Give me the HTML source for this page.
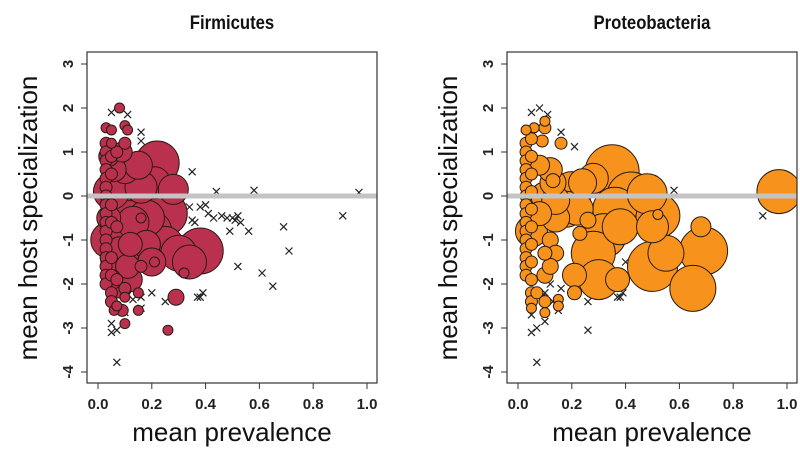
<!DOCTYPE html>
<html><head><meta charset="utf-8"><style>
html,body{margin:0;padding:0;background:#fff}
svg{display:block;font-family:"Liberation Sans",Arial,sans-serif}
</style></head><body>
<svg id="chart" width="800" height="471" viewBox="0 0 800 471" xmlns="http://www.w3.org/2000/svg"></svg>
<script>
const xTicks=[0,0.2,0.4,0.6,0.8,1.0];
const xTickLabels=["0.0","0.2","0.4","0.6","0.8","1.0"];
const yTicks=[3,2,1,0,-1,-2,-3,-4];
const yTickLabels=["3","2","1","0","-1","-2","-3","-4"];
const panelTitles=["Firmicutes","Proteobacteria"];
// circles: [prevalence, specialization, size]
const firmCircles=[[0.22,0.75,22],[0.21,0.3,16],[0.28,0.15,15],[0.25,-0.4,22],[0.2,-0.8,20],[0.25,-1.1,18],[0.3,-1.3,18],[0.38,-1.25,23],[0.34,-1.5,17],[0.15,-1.3,18],[0.12,0.3,18],[0.1,-0.3,20],[0.1,0.6,14],[0.07,-1.5,16],[0.05,0.1,18],[0.04,-1.0,18],[0.08,-2.0,14],[0.12,-1.9,12],[0.18,-1.1,14],[0.15,0.7,14],[0.13,-0.6,16],[0.08,-1.2,12],[0.11,-1.6,12],[0.06,0.6,12],[0.04,0.9,10],[0.04,-0.5,12],[0.05,-1.9,10],[0.09,1.0,10],[0.16,0.2,16],[0.18,-0.5,18],[0.2,-1.5,14],[0.12,-1.1,12],[0.29,-2.3,8],[0.26,-3.05,5],[0.32,-1.75,5],[0.08,2.0,5],[0.1,1.6,5],[0.11,1.5,5],[0.03,1.55,5],[0.05,1.5,5],[0.05,1.2,5],[0.15,-2.6,5],[0.1,-2.9,5],[0.06,-2.6,5],[0.1,-2.3,5],[0.07,-2.5,5],[0.15,-2.2,5],[0.16,-1.6,6],[0.16,-0.5,5],[0.21,-1.5,5],
[0.03,1.2,6],[0.03,1.0,6],[0.03,0.8,6],[0.03,0.6,6],[0.03,0.4,6],[0.03,0.2,6],[0.03,0.0,6],[0.03,-0.2,6],[0.03,-0.4,6],[0.03,-0.6,6],[0.03,-0.8,6],[0.03,-1.0,6],[0.03,-1.2,6],[0.03,-1.4,6],[0.03,-1.6,6],[0.03,-1.8,6],[0.03,-2.0,6],[0.05,0.9,6],[0.05,0.5,6],[0.05,-0.2,6],[0.05,-0.6,6],[0.05,-1.4,6],[0.05,-1.8,6],[0.05,-2.2,6],[0.05,-2.4,6],[0.07,1.0,6],[0.07,-0.7,6],[0.07,-1.9,6],[0.09,-2.6,6],[0.1,1.2,6],[0.1,-2.1,6]];
const firmCrosses=[[0.05,1.9],[0.11,1.85],[0.16,1.45],[0.16,1.25],[0.35,0.55],[0.44,0.1],[0.58,0.13],[0.97,0.08],[0.91,-0.45],[0.34,-0.25],[0.38,-0.25],[0.4,-0.2],[0.41,-0.4],[0.43,-0.5],[0.46,-0.45],[0.48,-0.5],[0.5,-0.5],[0.51,-0.55],[0.52,-0.45],[0.53,-0.6],[0.49,-0.8],[0.56,-0.8],[0.35,-0.55],[0.36,-0.6],[0.69,-0.7],[0.71,-1.25],[0.52,-1.6],[0.61,-1.75],[0.65,-2.05],[0.2,-2.2],[0.39,-2.2],[0.37,-2.3],[0.38,-2.3],[0.25,-2.4],[0.13,-2.35],[0.16,-2.3],[0.05,-2.9],[0.05,-3.1],[0.07,-3.05],[0.07,-3.78],[0.1,-2.65],[0.16,-2.55]];
const proCircles=[[0.35,0.55,27],[0.28,0.4,15],[0.42,0.0,24],[0.48,0.05,20],[0.52,-0.45,22],[0.5,-0.7,16],[0.36,-0.3,22],[0.38,-0.7,18],[0.32,-0.9,22],[0.28,-1.3,22],[0.3,-1.9,20],[0.18,-0.3,18],[0.2,0.1,20],[0.14,-0.5,14],[0.13,0.3,13],[0.05,-0.8,16],[0.12,-1.0,8],[0.1,-1.3,7],[0.26,-0.55,8],[0.23,-0.85,7],[0.5,-1.6,25],[0.55,-1.3,18],[0.69,-1.25,24],[0.68,-0.7,10],[0.65,-2.1,23],[0.37,-1.9,12],[0.21,-1.8,12],[0.21,-2.2,7],[0.97,0.1,22],[0.09,1.25,6],[0.1,1.7,5],[0.06,1.55,5],[0.03,1.5,5],[0.15,-2.35,5],[0.15,-2.5,5],[0.1,-2.65,5],[0.05,-2.55,5],[0.13,0.35,7],[0.52,-0.42,5],[0.16,1.2,6],[0.08,0.7,10],[0.1,-1.8,8],[0.14,-1.3,8],[0.12,0.6,12],[0.1,0.0,14],[0.08,-0.4,12],[0.14,-0.1,14],[0.24,0.3,14],[0.22,-0.3,16],[0.12,-1.6,8],
[0.03,1.2,6],[0.03,1.0,6],[0.03,0.8,6],[0.03,0.6,6],[0.03,0.4,6],[0.03,0.2,6],[0.03,0.0,6],[0.03,-0.2,6],[0.03,-0.4,6],[0.03,-0.6,6],[0.03,-0.8,6],[0.03,-1.0,6],[0.03,-1.2,6],[0.03,-1.4,6],[0.03,-1.6,6],[0.03,-1.8,6],[0.05,1.3,6],[0.05,0.9,6],[0.05,0.5,6],[0.05,0.1,6],[0.05,-0.3,6],[0.05,-0.7,6],[0.05,-1.1,6],[0.05,-1.5,6],[0.05,-1.9,6],[0.05,-2.2,6],[0.05,-2.4,6],[0.07,-2.2,6],[0.1,-2.4,6],[0.1,1.55,6]];
const proCrosses=[[0.05,1.9],[0.08,2.0],[0.11,1.85],[0.16,1.45],[0.21,1.12],[0.58,0.13],[0.91,-0.45],[0.4,-1.5],[0.37,-2.3],[0.38,-2.3],[0.39,-2.2],[0.26,-2.4],[0.26,-3.05],[0.15,-2.6],[0.16,-2.1],[0.1,-2.85],[0.07,-3.0],[0.05,-3.1],[0.07,-3.78],[0.05,-2.7],[0.1,-2.2],[0.12,-2.0],[0.09,-2.3],[0.13,-2.4]];

const NS="http://www.w3.org/2000/svg";
const svg=document.getElementById('chart');
function mk(tag,attrs,parent){const e=document.createElementNS(NS,tag);for(const k in attrs)e.setAttribute(k,attrs[k]);(parent||svg).appendChild(e);return e;}
function drawPanel(off,title,circles,crosses,fill,key){
  const box={l:87+off,r:377+off,t:52,b:383};
  const xs=v=>98+off+v*269;
  const ys=v=>196-v*44;
  const g=mk('g',{});
  
  
  const t=mk('text',{x:(box.l+box.r)/2,y:29,'text-anchor':'middle','font-size':19,'font-weight':'bold',fill:'#111',transform:`translate(${(box.l+box.r)/2*0.12},0) scale(0.88,1)`},g);
  t.textContent=title;
  
  
  const yl=mk('text',{x:0,y:0,transform:`translate(${37+off},218) rotate(-90)`,'text-anchor':'middle','font-size':26,fill:'#111'},g);
  yl.textContent='mean host specialization';
  
  
  const xl=mk('text',{x:(box.l+box.r)/2,y:441,'text-anchor':'middle','font-size':26,fill:'#111'},g);
  xl.textContent='mean prevalence';
  
  
  xTicks.forEach((v,i)=>{
    mk('line',{x1:xs(v),x2:xs(v),y1:box.b,y2:box.b+6,stroke:'#333','stroke-width':1},g);
    const tl=mk('text',{x:xs(v),y:box.b+26,'text-anchor':'middle','font-size':15,'font-weight':'bold',fill:'#222'},g);
    tl.textContent=xTickLabels[i];
    
    
  });
  mk('line',{x1:xs(0),x2:xs(1),y1:box.b,y2:box.b,stroke:'#333'},g);
  yTicks.forEach((v,i)=>{
    mk('line',{x1:box.l,x2:box.l-6,y1:ys(v),y2:ys(v),stroke:'#333','stroke-width':1},g);
    const tl=mk('text',{x:0,y:0,transform:`translate(${box.l-14},${ys(v)}) rotate(-90)`,'text-anchor':'middle','font-size':15,'font-weight':'bold',fill:'#222'},g);
    tl.textContent=yTickLabels[i];
    
    
  });
  mk('line',{x1:box.l,x2:box.l,y1:ys(3),y2:ys(-4),stroke:'#333'},g);
  const clip=mk('clipPath',{id:'clip-'+key},g);
  mk('rect',{x:box.l,y:box.t,width:box.r-box.l,height:box.b-box.t},clip);
  const pg=mk('g',{'clip-path':`url(#clip-${key})`},g);
  crosses.forEach(c=>{
    const x=xs(c[0]),y=ys(c[1]),s=3.5;
    const p=mk('path',{d:`M${x-s},${y-s}L${x+s},${y+s}M${x-s},${y+s}L${x+s},${y-s}`,stroke:'#222','stroke-width':1.2},pg);
    
    
  });
  const sorted=circles.slice().sort((a,b)=>b[2]-a[2]);
  sorted.forEach(c=>{
    const ci=mk('circle',{cx:xs(c[0]),cy:ys(c[1]),r:c[2],fill:fill,stroke:'#2a1a10','stroke-width':1},pg);
    
    
  });
  const zl=mk('line',{x1:box.l,x2:box.r,y1:ys(0),y2:ys(0),stroke:'#c4c4c4','stroke-width':5},pg);
  
  
  const fr=mk('rect',{x:box.l,y:box.t,width:box.r-box.l,height:box.b-box.t,fill:'none',stroke:'#333','stroke-width':1.2},g);
  
  
}
drawPanel(0,panelTitles[0],firmCircles,firmCrosses,'#b9314f','firmicutes');
drawPanel(420,panelTitles[1],proCircles,proCrosses,'#f7931c','proteobacteria');
</script>
</body></html>
